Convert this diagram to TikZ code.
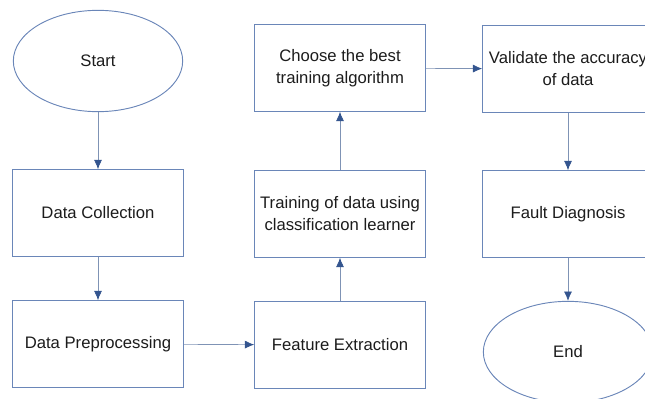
\documentclass[tikz,border=0pt]{standalone}
\usepackage{fontspec}
\setmainfont{Liberation Sans}
\usepackage{xcolor}
\definecolor{flowBorder}{HTML}{6A86B8}
\definecolor{flowLine}{HTML}{7F93B5}
\definecolor{flowArrow}{HTML}{34558F}
\definecolor{flowText}{HTML}{1C1C1C}
\usetikzlibrary{shapes.geometric, arrows.meta}

\tikzset{
  flowStep/.style={rectangle, draw=flowBorder, line width=0.7pt, minimum width=128pt, minimum height=65pt,
    align=center, text=flowText, font=\fontsize{12.5}{16.5}\selectfont},
  flowTerm/.style={ellipse, draw=flowBorder, line width=0.7pt, minimum width=127pt, minimum height=76pt,
    text=flowText, font=\fontsize{12.5}{16.5}\selectfont},
  flowLink/.style={draw=flowLine, line width=0.5pt, -{Latex[length=7pt, width=6pt, color=flowArrow]}}
}

\begin{document}
\begin{tikzpicture}[x=0.75pt, y=-0.75pt]
  \useasboundingbox (0,0) rectangle (645,399);
  \node[flowTerm] (start) at (98,61) {Start};
  \node[flowStep] (collect) at (98,213) {Data Collection};
  \node[flowStep] (prep) at (98,344) {Data Preprocessing};
  \node[flowStep] (feature) at (340,345) {Feature Extraction};
  \node[flowStep] (train) at (340,214) {Training of data using\\classification learner};
  \node[flowStep] (choose) at (340,68) {Choose the best\\training algorithm};
  \node[flowStep] (valid) at (568,69) {Validate the accuracy\\of data};
  \node[flowStep] (fault) at (568,214) {Fault Diagnosis};
  \node[flowTerm] (finish) at (568,352) {End};
  \draw[flowLink] (start) -- (collect);
  \draw[flowLink] (collect) -- (prep);
  \draw[flowLink] (prep) -- (feature);
  \draw[flowLink] (feature) -- (train);
  \draw[flowLink] (train) -- (choose);
  \draw[flowLink] (choose) -- (valid);
  \draw[flowLink] (valid) -- (fault);
  \draw[flowLink] (fault) -- (finish);
\end{tikzpicture}
\end{document}
